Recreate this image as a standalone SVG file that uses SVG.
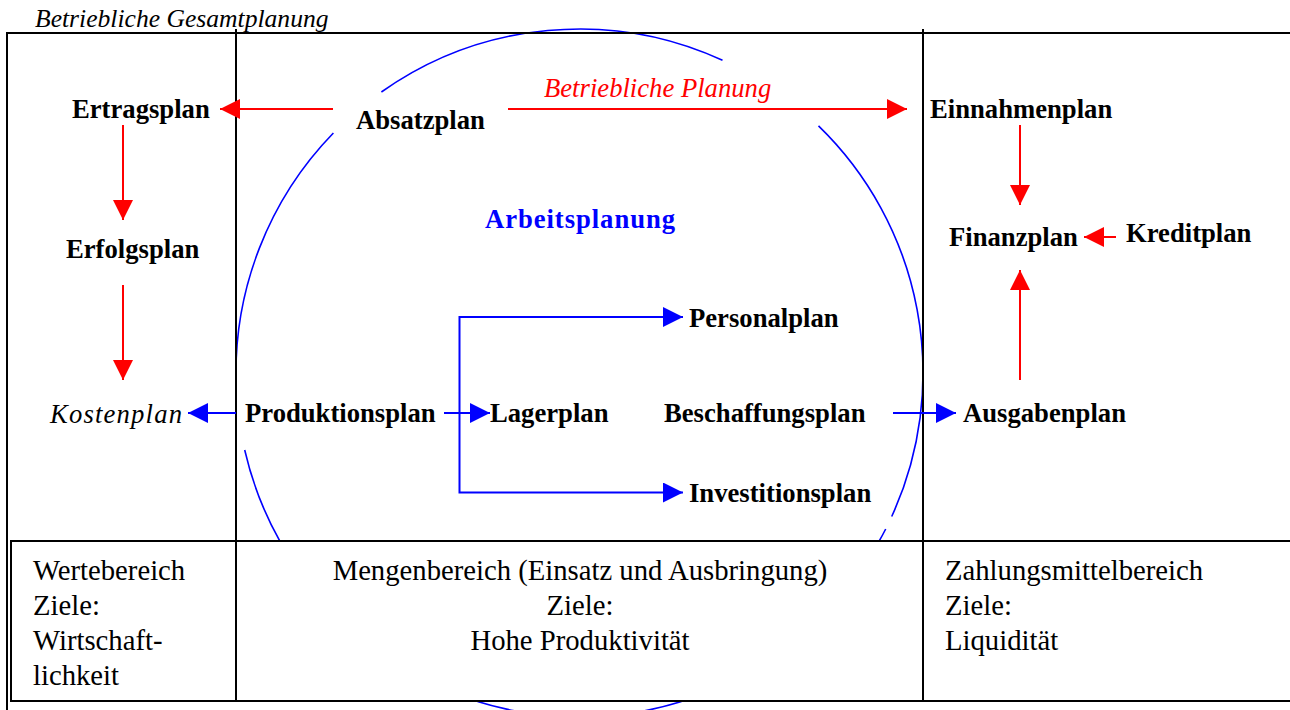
<svg xmlns="http://www.w3.org/2000/svg" width="1290" height="710" viewBox="0 0 1290 710">
<style>
text{font-family:"Liberation Serif","Times New Roman",serif;fill:#000}
.b{font-weight:bold;font-size:26.67px}
.i{font-style:italic;font-size:26.67px}
.t{font-size:28.7px}
.frame{fill:none;stroke:#000;stroke-width:2}
.circ{fill:none;stroke:#0000FF;stroke-width:1.6}
.red{fill:none;stroke:#FF0000;stroke-width:2}
.blue{fill:none;stroke:#0000FF;stroke-width:2}
</style>
<defs>
<marker id="ar" markerUnits="userSpaceOnUse" markerWidth="20" markerHeight="20" refX="20" refY="10" orient="auto"><path d="M0,0 L20,10 L0,20 Z" fill="#FF0000"/></marker>
<marker id="ab" markerUnits="userSpaceOnUse" markerWidth="20" markerHeight="20" refX="20" refY="10" orient="auto"><path d="M0,0 L20,10 L0,20 Z" fill="#0000FF"/></marker>
</defs>
<rect width="1290" height="710" fill="#fff"/>
<g id="arbeitsplanung-circle">
<path class="circ" d="M381.4,92 A343.5,344 0 0 1 722.5,60.2"/>
<path class="circ" d="M818.5,125.9 A343.5,344 0 0 1 891.7,516.5"/>
<path class="circ" d="M885.7,529 A343.5,344 0 0 1 879.4,540.7"/>
<path class="circ" d="M681.5,701.5 A343.5,344 0 0 1 477.5,701.5"/>
<path class="circ" d="M279.6,540.7 A343.5,344 0 0 1 244.7,450"/>
<path class="circ" d="M236.1,383 A343.5,344 0 0 1 333.4,133"/>
</g>
<g id="frame">
<rect class="frame" x="7" y="33" width="1300" height="700"/>
<rect x="11" y="541" width="1300" height="160" fill="#fff" stroke="#000" stroke-width="2"/>
<line class="frame" x1="236" y1="29" x2="236" y2="701"/>
<line class="frame" x1="923" y1="29" x2="923" y2="701"/>
</g>
<g id="title"><text class="i" x="35" y="27" style="font-size:25.6px">Betriebliche Gesamtplanung</text></g>
<g id="connectors">
<line class="red" x1="333" y1="109" x2="220" y2="109" marker-end="url(#ar)"/>
<line class="red" x1="508" y1="109" x2="907" y2="109" marker-end="url(#ar)"/>
<line class="red" x1="123" y1="125" x2="123" y2="220" marker-end="url(#ar)"/>
<line class="red" x1="123" y1="285" x2="123" y2="380" marker-end="url(#ar)"/>
<line class="red" x1="1020" y1="125" x2="1020" y2="205" marker-end="url(#ar)"/>
<line class="red" x1="1020" y1="380" x2="1020" y2="270" marker-end="url(#ar)"/>
<line class="red" x1="1116" y1="237" x2="1084" y2="237" marker-end="url(#ar)"/>
<line class="blue" x1="236" y1="413" x2="188" y2="413" marker-end="url(#ab)"/>
<line class="blue" x1="444" y1="413" x2="490" y2="413" marker-end="url(#ab)"/>
<path class="blue" d="M459.5,413 V317 H683" marker-end="url(#ab)"/>
<path class="blue" d="M459.5,413 V492.5 H683" marker-end="url(#ab)"/>
<line class="blue" x1="893" y1="413" x2="956" y2="413" marker-end="url(#ab)"/>
</g>
<g id="betriebliche-planung"><text class="i" x="544" y="97" style="fill:#FF0000">Betriebliche Planung</text></g>
<g id="ertragsplan"><text class="b" x="72" y="118">Ertragsplan</text></g>
<g id="absatzplan"><text class="b" x="356" y="129">Absatzplan</text></g>
<g id="einnahmenplan"><text class="b" x="930" y="118">Einnahmenplan</text></g>
<g id="erfolgsplan"><text class="b" x="66" y="258">Erfolgsplan</text></g>
<g id="arbeitsplanung"><text class="b" x="485" y="228" textLength="190" style="fill:#0000FF">Arbeitsplanung</text></g>
<g id="finanzplan"><text class="b" x="949" y="245.5">Finanzplan</text></g>
<g id="kreditplan"><text class="b" x="1126" y="242">Kreditplan</text></g>
<g id="personalplan"><text class="b" x="689" y="327">Personalplan</text></g>
<g id="kostenplan"><text class="i" x="50" y="423" textLength="132">Kostenplan</text></g>
<g id="produktionsplan"><text class="b" x="245" y="422">Produktionsplan</text></g>
<g id="lagerplan"><text class="b" x="490" y="422">Lagerplan</text></g>
<g id="beschaffungsplan"><text class="b" x="664" y="422">Beschaffungsplan</text></g>
<g id="ausgabenplan"><text class="b" x="963" y="422">Ausgabenplan</text></g>
<g id="investitionsplan"><text class="b" x="689" y="502">Investitionsplan</text></g>
<g id="wertebereich">
<text class="t" x="33" y="580">Wertebereich</text>
<text class="t" x="33" y="615">Ziele:</text>
<text class="t" x="33" y="650">Wirtschaft-</text>
<text class="t" x="33" y="685">lichkeit</text>
</g>
<g id="mengenbereich">
<text class="t" x="580" y="580" text-anchor="middle">Mengenbereich (Einsatz und Ausbringung)</text>
<text class="t" x="580" y="615" text-anchor="middle">Ziele:</text>
<text class="t" x="580" y="650" text-anchor="middle">Hohe Produktivität</text>
</g>
<g id="zahlungsmittelbereich">
<text class="t" x="945" y="580">Zahlungsmittelbereich</text>
<text class="t" x="945" y="615">Ziele:</text>
<text class="t" x="945" y="650">Liquidität</text>
</g>
</svg>
